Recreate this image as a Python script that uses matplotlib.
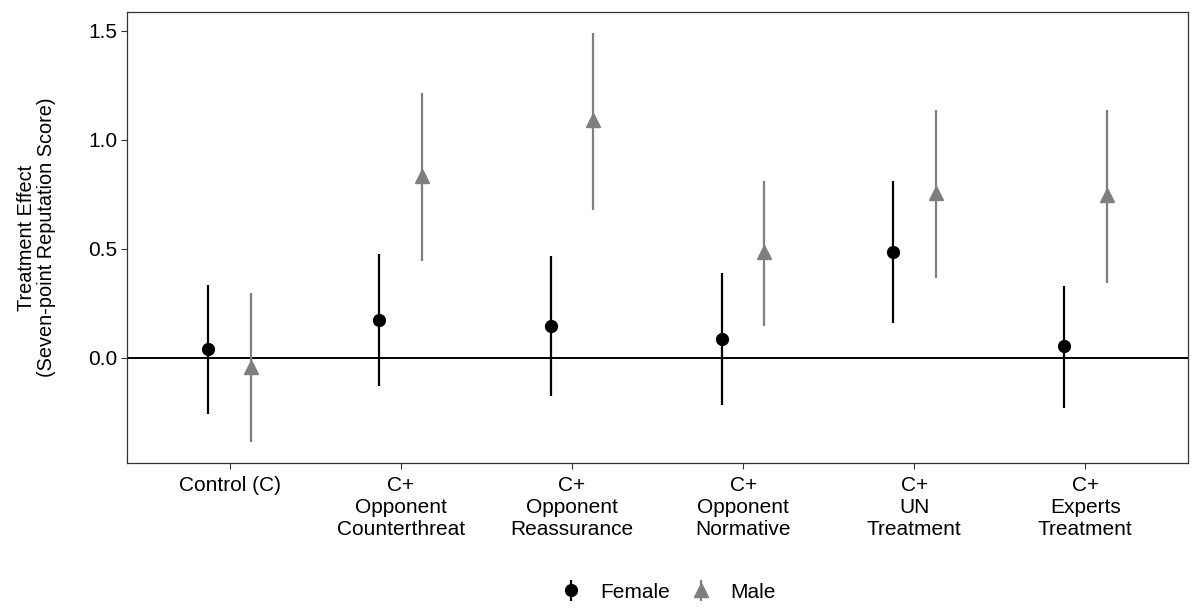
import numpy as np
import matplotlib
matplotlib.use("Agg")
import matplotlib.pyplot as plt

plt.rcParams['font.family'] = ['Liberation Sans', 'DejaVu Sans']

categories = ["Control (C)", "C+\nOpponent\nCounterthreat", "C+\nOpponent\nReassurance",
              "C+\nOpponent\nNormative", "C+\nUN\nTreatment", "C+\nExperts\nTreatment"]

female_est = [0.041, 0.174, 0.147, 0.087, 0.486, 0.055]
female_lo = [-0.257, -0.128, -0.174, -0.216, 0.161, -0.229]
female_hi = [0.335, 0.477, 0.468, 0.390, 0.812, 0.330]

male_est = [-0.041, 0.835, 1.092, 0.486, 0.757, 0.748]
male_lo = [-0.385, 0.445, 0.679, 0.147, 0.367, 0.344]
male_hi = [0.298, 1.216, 1.491, 0.812, 1.138, 1.138]

x = np.arange(1, len(categories) + 1)
dodge = 0.125

fig = plt.figure(figsize=(11.96, 6.11), dpi=100)
ax = fig.add_axes([0.1062, 0.2422, 0.8871, 0.7382])

ax.axhline(0, color='black', lw=1.4, zorder=1)

fe = np.array(female_est)
me = np.array(male_est)
h_f = ax.errorbar(x - dodge, fe, yerr=[fe - np.array(female_lo), np.array(female_hi) - fe],
                  fmt='o', color='black', ms=8.5, elinewidth=1.6, capsize=0, label='Female', zorder=3)
h_m = ax.errorbar(x + dodge, me, yerr=[me - np.array(male_lo), np.array(male_hi) - me],
                  fmt='^', color='#7f7f7f', ms=10, elinewidth=1.6, capsize=0, label='Male', zorder=3)

ax.set_xlim(0.4, 6.6)
ax.set_ylim(-0.482, 1.587)
ax.set_xticks(x)
ax.set_xticklabels(categories, fontsize=15, linespacing=1.2)
ax.set_yticks([0.0, 0.5, 1.0, 1.5])
ax.set_yticklabels(["0.0", "0.5", "1.0", "1.5"], fontsize=15)
ax.tick_params(axis='both', color='#333333', length=4, width=0.8, pad=3)
ax.tick_params(axis='x', pad=5)
ax.set_ylabel("Treatment Effect\n(Seven-point Reputation Score)", fontsize=14.3, labelpad=23, linespacing=1.1)
for s in ax.spines.values():
    s.set_color('#333333')
    s.set_linewidth(0.9)

fig.legend(handles=[h_f, h_m], loc='center', bbox_to_anchor=(0.558, 0.031), ncol=2,
           frameon=False, fontsize=15, handlelength=1.2, handletextpad=0.8, columnspacing=0.9)

fig.savefig("out.png", dpi=100)
